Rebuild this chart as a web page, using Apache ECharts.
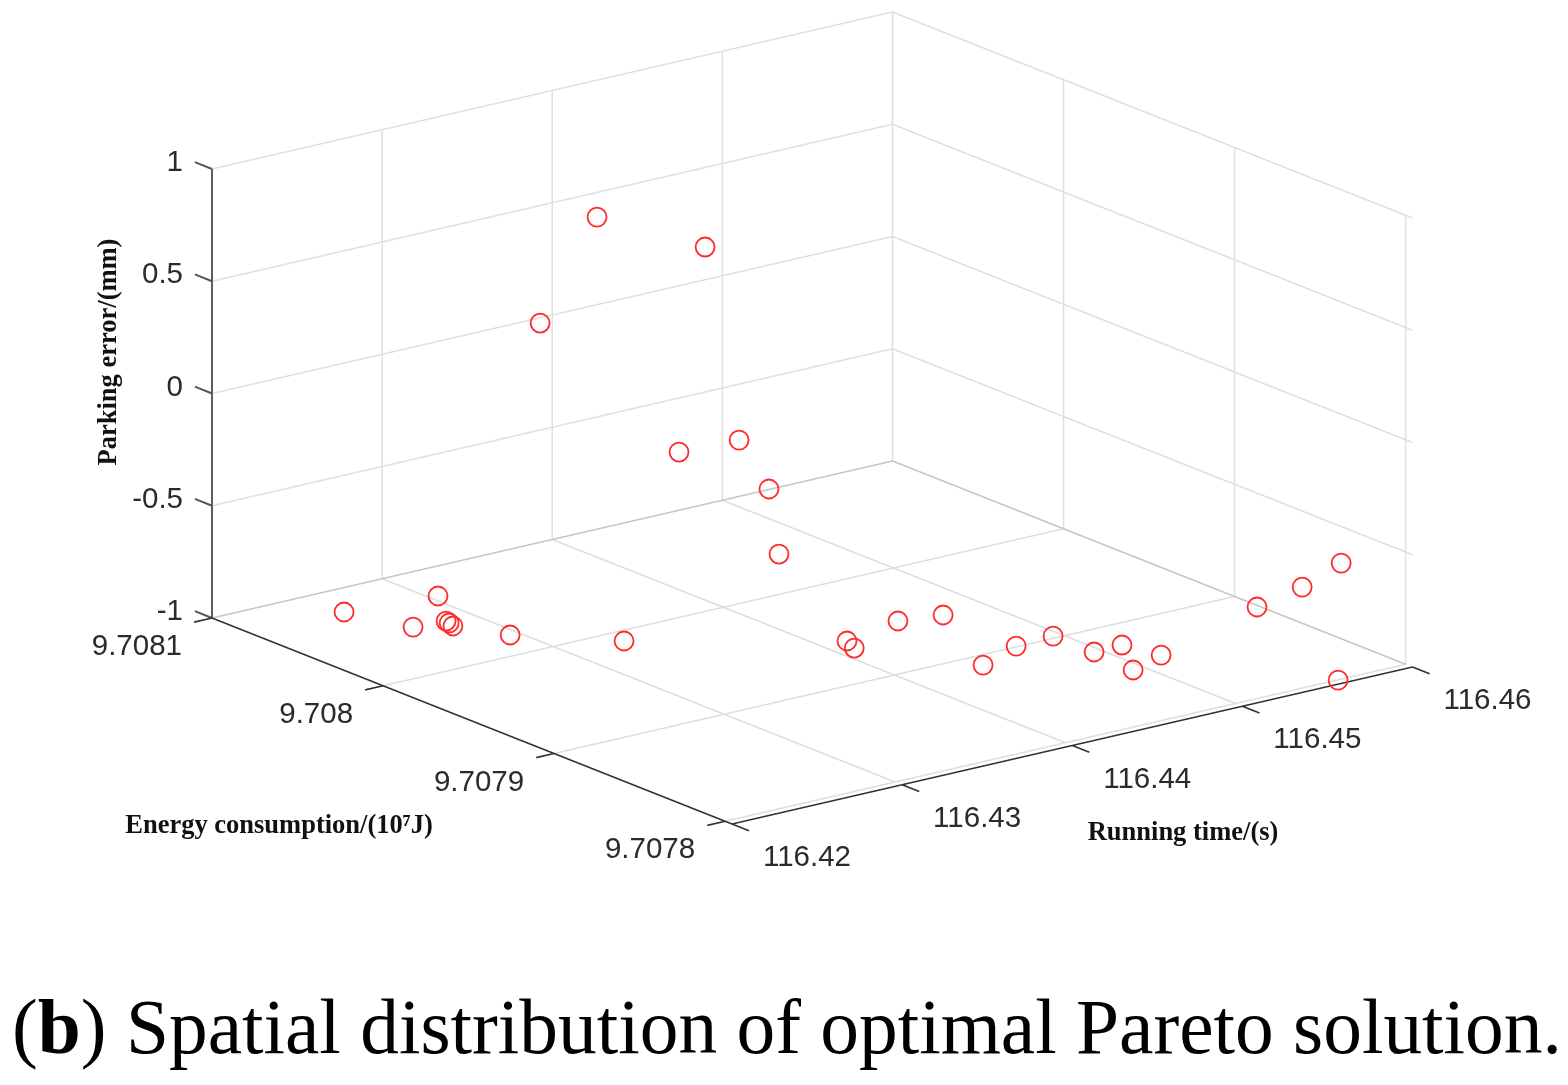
<!DOCTYPE html>
<html>
<head>
<meta charset="utf-8">
<style>html,body{margin:0;padding:0;background:#fff}#c{width:1568px;height:1085px}</style>
<script src="https://cdn.jsdelivr.net/npm/echarts@6/dist/echarts.min.js"></script>
</head>
<body>
<div id="c"></div>
<script>
// ---- data ----
const timeTicks = [116.42, 116.43, 116.44, 116.45, 116.46];
const energyTicks = [9.7081, 9.708, 9.7079, 9.7078];
const errorTicks = [-1, -0.5, 0, 0.5, 1];
const timeLabels = ['116.42', '116.43', '116.44', '116.45', '116.46'];
const energyLabels = ['9.7081', '9.708', '9.7079', '9.7078'];
const errorLabels = ['-1', '-0.5', '0', '0.5', '1'];
const energyAxisLimit = 9.707796;

const runningTime = [116.42547,116.42662,116.43046,116.42841,116.42834,116.42820,116.42948,116.43315,
  116.44143,116.44104,116.44520,116.44744,116.44423,116.44724,116.44955,116.44958,116.45127,116.44934,
  116.45178,116.45985,116.45982,116.45994,116.45601,116.43864,116.43805,116.43732,116.43607,116.43248,
  116.43653,116.43900];
const energyUse = [9.7080772,9.7080483,9.7080719,9.7080468,9.7080443,9.7080407,9.7080200,9.7079899,
  9.7079419,9.7079338,9.7079496,9.7079455,9.7078902,9.7079008,9.7079022,9.7078785,9.7078790,9.7078533,
  9.7078612,9.7078854,9.7078587,9.7078371,9.7077998,9.7079539,9.7079539,9.7079641,9.7079868,9.7080323,
  9.7080393,9.7080007];
const parkingError = [-1,-1,-1,-1,-1,-1,-1,-1,
  -1,-1,-1,-1,-1,-1,-1,-1,-1,-1,
  -1,-1,-0.83,-0.66,-1,-0.6,-0.3,-0.1,-0.2,0.3,
  0.68,0.62];

// ---- orthographic view of the 3D box (MATLAB-style) ----
const tMin = 116.42, tMax = 116.46, eMax = 9.7081, eMin = energyAxisLimit;
const view = {ox:212, oy:618, tx:680.5, ty:-157, ex:520, ey:206, zy:224.5};
function proj(t, e, z){
  const tn = (t - tMin) / (tMax - tMin);
  const en = (eMax - e) / (eMax - eMin);
  return [view.ox + view.tx*tn + view.ex*en,
          view.oy + view.ty*tn + view.ey*en - view.zy*(z + 1)];
}
const GAP = [NaN, NaN];
function segs(list){
  const out = [];
  list.forEach(s => { out.push(proj(...s[0]), proj(...s[1]), GAP); });
  return out;
}
const zLo = errorTicks[0], zHi = errorTicks[errorTicks.length-1];
const lastE = energyTicks[energyTicks.length-1];

// walls
const wallLines = [];
errorTicks.slice(1).forEach(z => {
  wallLines.push([[tMin,eMax,z],[tMax,eMax,z]]);
  wallLines.push([[tMax,eMax,z],[tMax,eMin,z]]);
});
timeTicks.slice(1).forEach(t => wallLines.push([[t,eMax,zLo],[t,eMax,zHi]]));
energyTicks.slice(1).forEach(e => wallLines.push([[tMax,e,zLo],[tMax,e,zHi]]));
// floor
const floorLines = [];
timeTicks.slice(1,-1).forEach(t => floorLines.push([[t,eMax,zLo],[t,lastE,zLo]]));
energyTicks.slice(1).forEach(e => floorLines.push([[tMin,e,zLo],[tMax,e,zLo]]));
// floor edges against the walls (a little darker)
const floorEdges = [
  [[tMin,eMax,zLo],[tMax,eMax,zLo]],
  [[tMax,eMax,zLo],[tMax,lastE,zLo]]
];
// axes and ticks
const zAxisLine = [[[tMin,eMax,zLo],[tMin,eMax,zHi]]];
const darkAxes = [
  [[tMin,eMax,zLo],[tMin,eMin,zLo]],
  [[tMin,eMin,zLo],[tMax,eMin,zLo]]
];
const tickE = 0.00001, tickT = 0.00105;
errorTicks.forEach(z => zAxisLine.push([[tMin,eMax+tickE,z],[tMin,eMax,z]]));
energyTicks.forEach(e => darkAxes.push([[tMin-tickT,e,zLo],[tMin,e,zLo]]));
timeTicks.forEach(t => darkAxes.push([[t,eMin,zLo],[t,eMin-tickE,zLo]]));

function lineSeries(list, color, width, z){
  return {type:'line', data:segs(list), showSymbol:false, silent:true, z:z,
    connectNulls:false, lineStyle:{color:color, width:width}, itemStyle:{opacity:0}};
}
function labelSeries(points, texts, position, align, offset){
  return {type:'scatter', symbolSize:0, silent:true, z:6, itemStyle:{opacity:1},
    data:points.map((p,i)=>({value:p, name:texts[i]})),
    label:{show:true, position:position, align:align, verticalAlign:'middle', distance:0, offset:offset,
      formatter:p=>p.name, fontFamily:'"Liberation Sans",Arial,sans-serif', fontSize:29.5, color:'#2b2b2b'}};
}
const points = runningTime.map((t,i)=>proj(t, energyUse[i], parkingError[i]));

const serif = '"Liberation Serif","Times New Roman",serif';
const chart = echarts.init(document.getElementById('c'), null, {renderer:'canvas'});
chart.setOption({
  animation:false,
  backgroundColor:'#ffffff',
  grid:{left:0,right:0,top:0,bottom:0,containLabel:false},
  xAxis:{type:'value',min:0,max:1568,show:false},
  yAxis:{type:'value',min:0,max:1085,inverse:true,show:false},
  series:[
    lineSeries(wallLines,'#e0e0e0',1.5,1),
    lineSeries(floorLines,'#dedede',1.5,1),
    lineSeries(floorEdges,'#c6c6c6',1.5,2),
    lineSeries(zAxisLine,'#555555',1.9,3),
    lineSeries(darkAxes,'#333333',1.7,3),
    labelSeries(timeTicks.map(t=>proj(t,eMin,zLo)), timeLabels, 'inside','center',[75,34]),
    labelSeries(energyTicks.map(e=>proj(tMin,e,zLo)), energyLabels, 'inside','right',[-30,29]),
    labelSeries(errorTicks.map(z=>proj(tMin,eMax,z)), errorLabels, 'inside','right',[-29,-6]),
    {type:'scatter', data:points, symbol:'circle', symbolSize:19, silent:true, z:5,
      itemStyle:{color:'rgba(0,0,0,0)', borderColor:'#ff2a2a', borderWidth:1.8, opacity:1}}
  ],
  graphic:[
    {type:'text', x:109, y:352, rotation:Math.PI/2, silent:true,
      style:{text:'Parking error/(mm)', x:0, y:0, align:'center', verticalAlign:'middle',
        font:'bold 26.5px '+serif, fill:'#111'}},
    {type:'text', x:279, y:826.5, silent:true,
      style:{text:'Energy consumption/(10⁷J)', align:'center', verticalAlign:'middle',
        font:'bold 26.5px '+serif, fill:'#111'}},
    {type:'text', x:1183, y:833.5, silent:true,
      style:{text:'Running time/(s)', align:'center', verticalAlign:'middle',
        font:'bold 26.5px '+serif, fill:'#111'}},
    {type:'text', x:12, y:1033, silent:true,
      style:{text:'({b|b}) Spatial distribution of optimal Pareto solution.', align:'left', verticalAlign:'middle',
        font:'77.4px '+serif, fill:'#000',
        rich:{b:{font:'bold 77.4px '+serif, fill:'#000'}}}}
  ]
});
</script>
</body>
</html>
